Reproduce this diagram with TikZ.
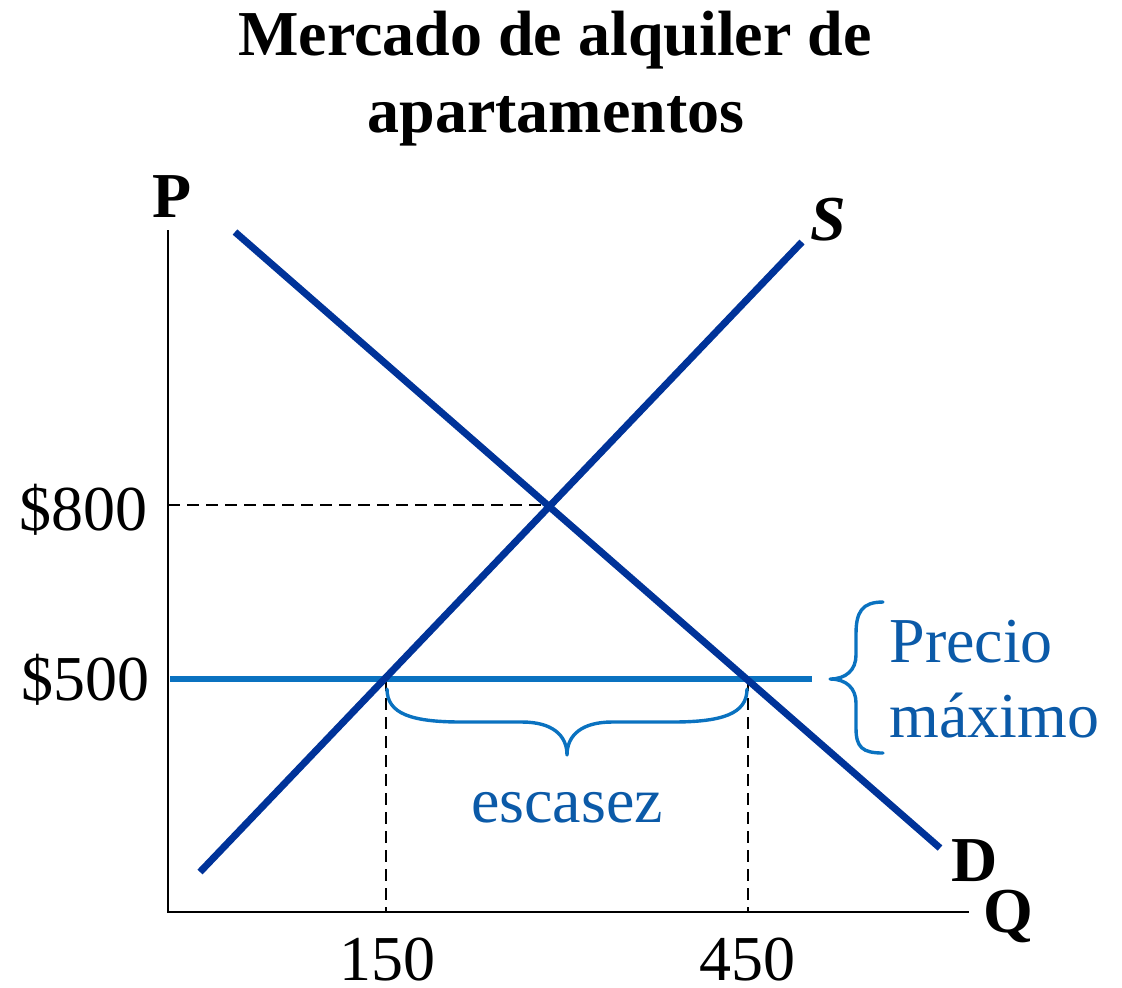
\documentclass[tikz,border=0pt]{standalone}
\usepackage{fontspec}
\setmainfont{Liberation Serif}
\definecolor{curveblue}{HTML}{003399}
\definecolor{ceilblue}{HTML}{0A72C0}
\definecolor{textblue}{HTML}{0B5AA8}
\begin{document}
\begin{tikzpicture}[x=0.5pt,y=-0.5pt,
  lbl/.style={inner sep=0pt,font=\fontsize{32}{38}\selectfont},
  blbl/.style={lbl,font=\fontsize{32}{38}\selectfont\bfseries},
  curve/.style={line width=3.5pt,color=curveblue},
  ceil/.style={line width=3pt,color=ceilblue},
  axis/.style={line width=1.2pt,black},
  guide/.style={line width=0.8pt,black,dash pattern=on 6pt off 3.5pt},
  bracestyle/.style={line width=1.7pt,color=ceilblue,line cap=round,line join=round}]
\useasboundingbox (0,0) rectangle (1122,987);
% title
\node[blbl,anchor=base] (t1) at (555,55) {Mercado de alquiler de};
\node[blbl,anchor=base] (t2) at (556,132) {apartamentos};
% axes
\coordinate (O) at (168,912);
\coordinate (Ptop) at (168,230);
\coordinate (Qend) at (969,912);
\draw[axis] (Ptop) -- (O) -- (Qend);
\node[blbl,anchor=base] (P) at (172,217) {P};
\node[blbl,anchor=base] (Q) at (1008,932) {Q};
% guides
\coordinate (E) at (548,505);
\coordinate (Ey) at (168,505);
\draw[guide] (Ey) -- (E);
\coordinate (A) at (386,679);
\coordinate (B) at (748,679);
\coordinate (Ax) at (386,912);
\coordinate (Bx) at (748,912);
\draw[guide] (A) -- (Ax);
\draw[guide] (B) -- (Bx);
% ceiling
\coordinate (C0) at (170,679);
\coordinate (C1) at (812,679);
\draw[ceil] (C0) -- (C1);
% supply and demand
\coordinate (S0) at (200,872);
\coordinate (S1) at (802,242);
\coordinate (D0) at (235,232);
\coordinate (D1) at (940,848);
\draw[curve] (S0) -- (S1);
\draw[curve] (D0) -- (D1);
\node[lbl,font=\fontsize{32}{38}\selectfont\bfseries\itshape,anchor=base] (S) at (828,240) {S};
\node[blbl,anchor=base] (D) at (975,881) {D};
% axis labels
\node[lbl,anchor=base east] (p800) at (148,530) {\$800};
\node[lbl,anchor=base east] (p500) at (150,700) {\$500};
\node[lbl,anchor=base] (q150) at (387,980) {150};
\node[lbl,anchor=base] (q450) at (747,980) {450};
% bottom brace
\draw[bracestyle] (387,689) .. controls (387,714) and (412,722) .. (462,722) -- (522,722)
  .. controls (552,722) and (567,735) .. (567,755)
  .. controls (567,735) and (582,722) .. (612,722) -- (672,722)
  .. controls (722,722) and (747,714) .. (747,689);
\node[lbl,text=textblue,anchor=base] (esc) at (567,822) {escasez};
% right brace
\draw[bracestyle] (883,602) .. controls (862,602) and (856,612) .. (856,634) -- (856,655)
  .. controls (856,670) and (846,679) .. (830,679)
  .. controls (846,679) and (856,688) .. (856,703) -- (856,728)
  .. controls (856,747) and (862,753) .. (883,753);
\node[lbl,text=textblue,anchor=base west] (pr1) at (889,662) {Precio};
\node[lbl,text=textblue,anchor=base west] (pr2) at (889,737) {máximo};
\end{tikzpicture}
\end{document}
